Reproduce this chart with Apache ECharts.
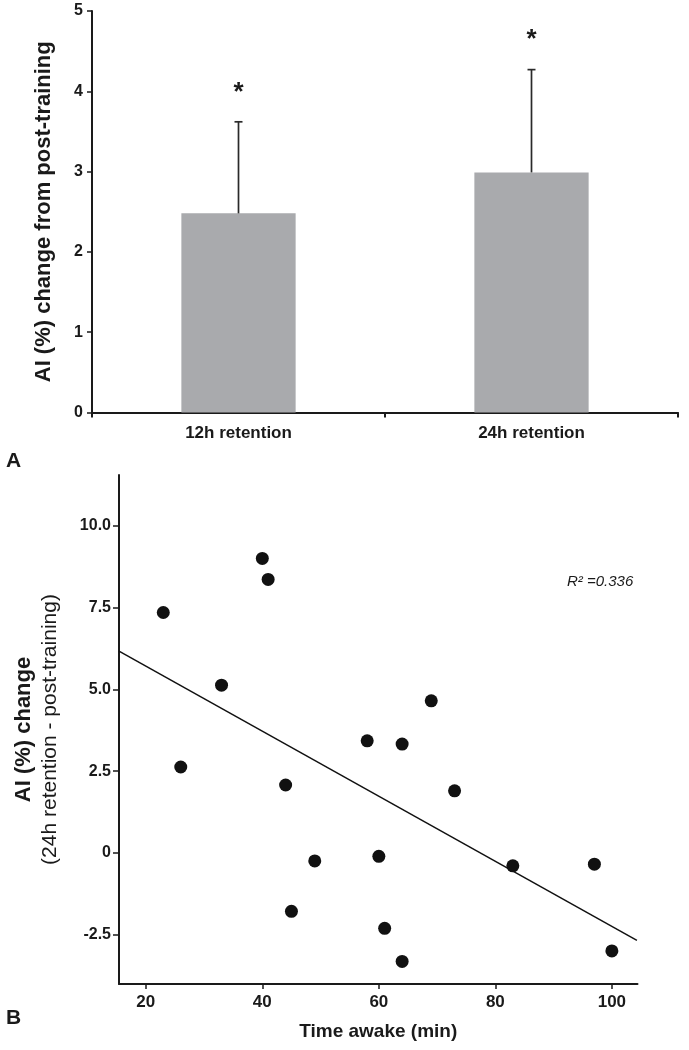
<!DOCTYPE html>
<html>
<head>
<meta charset="utf-8">
<script src="https://cdn.jsdelivr.net/npm/echarts@6/dist/echarts.min.js"></script>
<style>html,body{margin:0;padding:0;background:#fff;}#c{width:689px;height:1050px;}</style>
</head>
<body>
<div id="c"></div>
<script>
// ---- Panel A data ----
const categories = ['12h retention', '24h retention'];
const barMeans = [2.48, 2.99];
const barUpper = [3.62, 4.27];
const starY = [4.04, 4.70];
const topTicks = [0, 1, 2, 3, 4, 5];

// ---- Panel B data ----
const timeAwake = [23, 40, 41, 33, 26, 44, 49, 45, 69, 58, 64, 73, 60, 83, 97, 61, 64, 100];
const aiChange = [7.35, 9.0, 8.36, 5.13, 2.63, 2.08, -0.24, -1.78, 4.65, 3.43, 3.33, 1.9, -0.1, -0.39, -0.34, -2.3, -3.31, -2.99];
const fitLineX = [15.4, 104.3];
const fitLineY = [6.17, -2.67];
const xTicksB = [20, 40, 60, 80, 100];
const yTicksB = [-2.5, 0, 2.5, 5, 7.5, 10];
const r2Text = 'R² =0.336';

const FONT = '"Liberation Sans", Arial, Helvetica, sans-serif';
const AX = '#1a1a1a';

const scatterData = timeAwake.map((x, i) => [x, aiChange[i]]);
const fitData = fitLineX.map((x, i) => [x, fitLineY[i]]);
const errData = categories.map((c, i) => [i, barMeans[i], barUpper[i]]);
const starData = categories.map((c, i) => [i, starY[i]]);

const chart = echarts.init(document.getElementById('c'), null, {renderer: 'canvas'});
chart.setOption({
  animation: false,
  backgroundColor: '#fff',
  grid: [
    {left: 92, right: 11, top: 11, height: 401.5},
    {left: 119, right: 51.5, top: 475, height: 509}
  ],
  xAxis: [
    {
      gridIndex: 0, type: 'category', data: categories, boundaryGap: true,
      axisLine: {lineStyle: {color: AX, width: 2}},
      axisTick: {show: true, length: 5, lineStyle: {color: AX, width: 2}},
      axisLabel: {color: AX, fontFamily: FONT, fontWeight: 'bold', fontSize: 17, margin: 12}
    },
    {
      gridIndex: 1, type: 'value', min: 15.4, max: 104.4,
      name: 'Time awake (min)', nameLocation: 'middle', nameGap: 38,
      nameTextStyle: {color: AX, fontFamily: FONT, fontWeight: 'bold', fontSize: 19},
      splitLine: {show: false},
      axisLine: {onZero: false, lineStyle: {color: AX, width: 2}},
      axisTick: {show: true, length: 5, customValues: xTicksB, lineStyle: {color: AX, width: 1.5}},
      axisLabel: {color: AX, fontFamily: FONT, fontWeight: 'bold', fontSize: 17, margin: 10, customValues: xTicksB}
    }
  ],
  yAxis: [
    {
      gridIndex: 0, type: 'value', min: 0, max: 5, interval: 1,
      name: 'AI (%) change from post-training', nameLocation: 'middle', nameGap: 37,
      nameTextStyle: {color: AX, fontFamily: FONT, fontWeight: 'bold', fontSize: 22},
      splitLine: {show: false},
      axisLine: {show: true, lineStyle: {color: AX, width: 2}},
      axisTick: {show: true, length: 5, lineStyle: {color: AX, width: 1.5}},
      axisLabel: {color: AX, fontFamily: FONT, fontWeight: 'bold', fontSize: 16, margin: 9}
    },
    {
      gridIndex: 1, type: 'value', min: -4, max: 11.55,
      name: '{a|AI (%) change}\n{b|(24h retention - post-training)}',
      nameLocation: 'middle', nameGap: 56,
      nameTextStyle: {
        color: AX, fontFamily: FONT,
        rich: {
          a: {fontFamily: FONT, fontWeight: 'bold', fontSize: 22, lineHeight: 26, color: AX},
          b: {fontFamily: FONT, fontWeight: 'normal', fontSize: 21, lineHeight: 26, color: AX}
        }
      },
      splitLine: {show: false},
      axisLine: {show: true, onZero: false, lineStyle: {color: AX, width: 2}},
      axisTick: {show: true, length: 6, customValues: yTicksB, lineStyle: {color: AX, width: 1.5}},
      axisLabel: {
        color: AX, fontFamily: FONT, fontWeight: 'bold', fontSize: 16, margin: 8, customValues: yTicksB,
        formatter: v => (v === 0 ? '0' : v.toFixed(1))
      }
    }
  ],
  series: [
    {
      type: 'bar', xAxisIndex: 0, yAxisIndex: 0, data: barMeans, barWidth: '39%',
      itemStyle: {color: '#a9aaad'}, z: 2
    },
    {
      type: 'custom', xAxisIndex: 0, yAxisIndex: 0, data: errData, z: 3,
      renderItem: function (params, api) {
        const x = api.value(0);
        const p0 = api.coord([x, api.value(1)]);
        const p1 = api.coord([x, api.value(2)]);
        const st = {stroke: '#2a2a2a', lineWidth: 1.7};
        return {type: 'group', children: [
          {type: 'line', shape: {x1: p0[0], y1: p0[1], x2: p1[0], y2: p1[1]}, style: st},
          {type: 'line', shape: {x1: p1[0] - 4, y1: p1[1], x2: p1[0] + 4, y2: p1[1]}, style: st}
        ]};
      }
    },
    {
      type: 'custom', xAxisIndex: 0, yAxisIndex: 0, data: starData, z: 3,
      renderItem: function (params, api) {
        const p = api.coord([api.value(0), api.value(1)]);
        return {type: 'text', x: p[0], y: p[1] + 5, style: {
          text: '*', fill: '#1a1a1a', font: 'bold 26px ' + FONT,
          textAlign: 'center', textVerticalAlign: 'middle'
        }};
      }
    },
    {
      type: 'line', xAxisIndex: 1, yAxisIndex: 1, data: fitData, symbol: 'none',
      lineStyle: {color: '#111', width: 1.5}, z: 2
    },
    {
      type: 'scatter', xAxisIndex: 1, yAxisIndex: 1, data: scatterData, symbolSize: 13,
      itemStyle: {color: '#111', opacity: 1}, z: 3
    }
  ],
  graphic: [
    {type: 'text', left: 6, top: 451, style: {text: 'A', fill: '#1a1a1a', font: 'bold 21px ' + FONT}},
    {type: 'text', left: 6, top: 1008, style: {text: 'B', fill: '#1a1a1a', font: 'bold 21px ' + FONT}},
    {type: 'text', left: 567, top: 574, style: {text: r2Text, fill: '#1a1a1a', font: 'italic 15px ' + FONT}}
  ]
});
</script>
</body>
</html>
